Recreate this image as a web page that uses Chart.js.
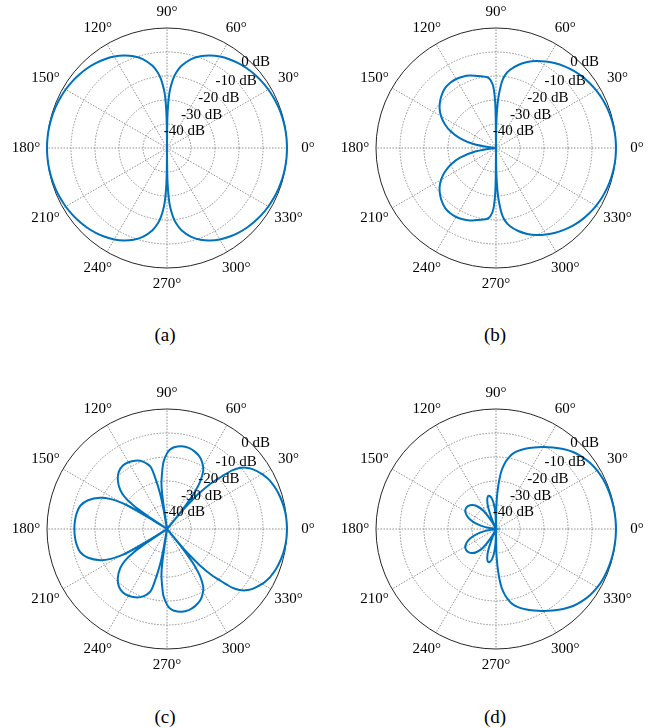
<!DOCTYPE html>
<html>
<head>
<meta charset="utf-8">
<script src="https://cdn.jsdelivr.net/npm/chart.js@4.4.0/dist/chart.umd.min.js"></script>
<style>
body { margin:0; background:#fff; width:662px; height:728px; position:relative; overflow:hidden;
       font-family:"Liberation Serif","Times New Roman",Times,"DejaVu Serif","Noto Serif",serif; }
canvas { position:absolute; }
.cap { position:absolute; font-size:19px; line-height:1; transform:translate(-50%,-50%); color:#000; }
</style>
</head>
<body>
<canvas id="pa" width="330" height="296" style="left:2px;top:0px"></canvas>
<canvas id="pb" width="330" height="296" style="left:331px;top:0px"></canvas>
<canvas id="pc" width="330" height="296" style="left:2px;top:381px"></canvas>
<canvas id="pd" width="330" height="296" style="left:331px;top:381px"></canvas>
<div class="cap" style="left:165px;top:334px">(a)</div>
<div class="cap" style="left:495px;top:334px">(b)</div>
<div class="cap" style="left:165px;top:716px">(c)</div>
<div class="cap" style="left:495px;top:716px">(d)</div>
<script>
// patterns read from 0° to 180°, the lower half is the mirror image
var anglesA = [0,5,10,15,20,25,30,35,40,45,50,55,60,65,70,75,80,83,85,87,88,89,89.5,90,90.5,91,92,93,95,97,100,105,110,115,120,125,130,135,140,145,150,155,160,165,170,175,180];
var dbA = [0,-0.03,-0.13,-0.30,-0.54,-0.85,-1.25,-1.73,-2.32,-3.01,-3.84,-4.83,-6.02,-7.48,-9.32,-11.74,-15.21,-18.28,-21.19,-25.63,-29.14,-35.16,-41.18,-50,-41.18,-35.16,-29.14,-25.63,-21.19,-18.28,-15.21,-11.74,-9.32,-7.48,-6.02,-4.83,-3.84,-3.01,-2.32,-1.73,-1.25,-0.85,-0.54,-0.30,-0.13,-0.03,0];

var anglesB = [0,5,10,15,20,25,30,35,40,45,50,55,60,65,70,75,80,83,85,87,88,89,89.5,90,90.5,91,92,93,95,97,100,105,110,115,120,125,130,135,140,145,150,155,160,165,170,175,180];
var dbB = [0,-0.05,-0.2,-0.45,-0.8,-1.27,-1.85,-2.56,-3.4,-4.4,-5.6,-6.9,-8.4,-10.0,-11.9,-14.2,-17.0,-19.5,-22.5,-28,-32,-38,-43,-50,-38,-31,-26,-23.5,-21.3,-20.3,-19.7,-18.9,-17.9,-17.2,-16.8,-16.8,-17.2,-18.2,-19.6,-21.3,-23.6,-26.5,-30.0,-34.5,-40.5,-48,-50];

var anglesC = [0,5,10,15,20,25,27,30,35,38,40,42,43,44,46,48,49,50,50.5,51,52,53,55,58,61,65,70,75,80,85,88,90,93,95,97,98,99,100,101,103,105,110,115,120,125,130,135,140,143,145,146,147,148,149,150,152,155,160,165,170,175,180];
var dbC = [0,-0.1,-0.4,-0.9,-1.6,-2.6,-3.2,-4.2,-6.5,-8.5,-10.5,-13.5,-16.3,-18.8,-23.5,-30,-35,-40,-50,-42,-36,-31,-26,-21.5,-19.3,-17.2,-15.8,-15.0,-15.0,-15.8,-17,-18.5,-22,-26.5,-31,-37,-50,-42,-35,-28,-23,-20,-18.6,-17.9,-17.8,-18.8,-21,-24.5,-28,-33,-40,-50,-40,-32,-28,-23.5,-19.3,-15.0,-12.6,-11.8,-11.5,-11.4];

var anglesD = [0,5,10,15,20,25,30,35,40,45,50,55,60,65,70,75,78,80,82,84,85,86,87,88,89,90,92,95,98,101,104,107,110,113,115,118,120,125,130,135,140,145,150,155,160,165,170,175,180];
var dbD = [0,-0.05,-0.15,-0.3,-0.5,-0.8,-1.3,-2.1,-3.2,-4.6,-6.5,-8.6,-10.6,-12.5,-14.4,-16.5,-18.2,-19.9,-21.9,-24.6,-26.5,-29,-32,-35.5,-40,-50,-44,-39.5,-37,-36,-36,-37.5,-40.5,-46,-50,-50,-46,-40.5,-37.5,-35.8,-35.0,-34.8,-35.2,-36.5,-38.5,-41.5,-45.5,-50,-50];

var angleTicks = [0,30,60,90,120,150,180,210,240,270,300,330];
var ringTicks = [-40,-30,-20,-10,0];
var floorDb = -50;

var lineColor = '#0072BD';
var fontFam = '"Liberation Serif","Times New Roman",Times,"DejaVu Serif","Noto Serif",serif';

function toXY(deg, v) {
  var r = Math.max(v, floorDb) - floorDb;
  var t = deg * Math.PI / 180;
  return {x: r * Math.cos(t), y: r * Math.sin(t)};
}

function loop(angles, db) {
  var pts = angles.map(function(a, i) { return toXY(a, db[i]); });
  for (var i = angles.length - 2; i >= 0; i--) pts.push(toXY(-angles[i], db[i]));
  return pts;
}

var polarGrid = {
  id: 'polarGrid',
  beforeDatasetsDraw: function(chart) {
    var ctx = chart.ctx, x = chart.scales.x, y = chart.scales.y;
    var cx = x.getPixelForValue(0), cy = y.getPixelForValue(0);
    var k = x.getPixelForValue(1) - cx;
    var R = -floorDb * k;
    ctx.save();
    ctx.strokeStyle = '#8c8c8c';
    ctx.lineWidth = 1;
    ctx.setLineDash([1.5, 1.5]);
    ringTicks.forEach(function(t) {
      if (t === 0) return;
      ctx.beginPath();
      ctx.arc(cx, cy, (t - floorDb) * k, 0, 2 * Math.PI);
      ctx.stroke();
    });
    angleTicks.forEach(function(a) {
      var t = a * Math.PI / 180;
      ctx.beginPath();
      ctx.moveTo(cx, cy);
      ctx.lineTo(cx + R * Math.cos(t), cy - R * Math.sin(t));
      ctx.stroke();
    });
    ctx.setLineDash([]);
    ctx.strokeStyle = '#262626';
    ctx.beginPath();
    ctx.arc(cx, cy, R, 0, 2 * Math.PI);
    ctx.stroke();
    ctx.restore();
  },
  afterDatasetsDraw: function(chart) {
    var ctx = chart.ctx, x = chart.scales.x, y = chart.scales.y;
    ctx.save();
    ctx.fillStyle = '#000';
    ctx.font = '15px ' + fontFam;
    ctx.textAlign = 'center';
    ctx.textBaseline = 'middle';
    angleTicks.forEach(function(a) {
      var t = a * Math.PI / 180;
      var r = (136 + 5 * Math.abs(Math.cos(t))) / 2.4;  // labels sit a bit further out left/right
      ctx.fillText(a + '\u00b0', x.getPixelForValue(r * Math.cos(t)), y.getPixelForValue(r * Math.sin(t)));
    });
    ringTicks.forEach(function(v) {
      var r = v - floorDb + (v === 0 ? 1.3 : 0), t = 44 * Math.PI / 180;
      ctx.fillText(v + ' dB', x.getPixelForValue(r * Math.cos(t)), y.getPixelForValue(r * Math.sin(t)));
    });
    ctx.restore();
  }
};

function makeChart(id, angles, db) {
  new Chart(document.getElementById(id), {
    type: 'scatter',
    data: {
      datasets: [{
        data: loop(angles, db),
        showLine: true,
        borderColor: lineColor,
        borderWidth: 2,
        pointRadius: 0,
        tension: 0.3,
        fill: false
      }]
    },
    options: {
      responsive: false,
      animation: false,
      devicePixelRatio: 1,
      events: [],
      layout: {padding: 0, autoPadding: false},
      scales: {
        x: {type: 'linear', min: -68.75, max: 68.75, display: false},
        y: {type: 'linear', min: -61.6667, max: 61.6667, display: false}
      },
      plugins: {legend: {display: false}, tooltip: {enabled: false}}
    },
    plugins: [polarGrid]
  });
}

makeChart('pa', anglesA, dbA);
makeChart('pb', anglesB, dbB);
makeChart('pc', anglesC, dbC);
makeChart('pd', anglesD, dbD);
</script>
</body>
</html>
